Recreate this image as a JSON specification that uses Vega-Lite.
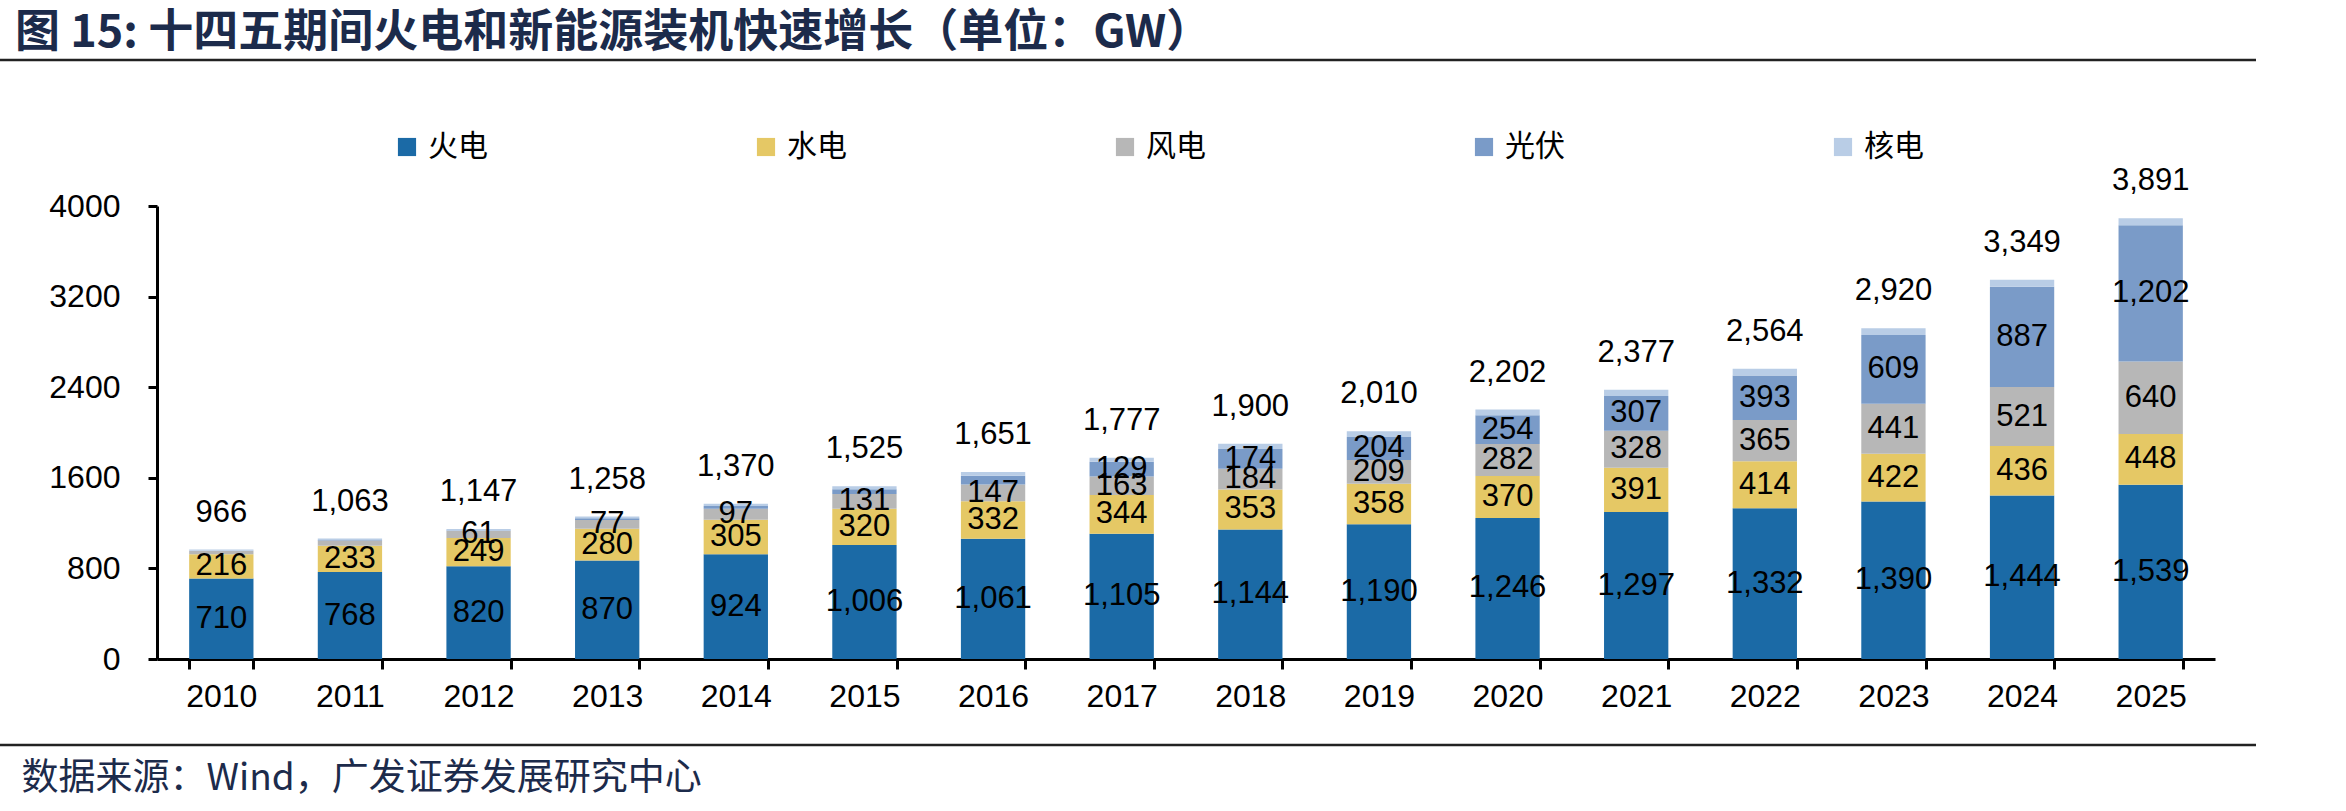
{
  "$schema": "https://vega.github.io/schema/vega-lite/v6.json",
  "width": 2058,
  "height": 453,
  "autosize": {"type": "none"},
  "padding": {"left": 157, "top": 206, "right": 131, "bottom": 152},
  "background": "white",
  "title": {
    "text": "图  15:  十四五期间火电和新能源装机快速增长（单位：GW）",
    "anchor": "start",
    "frame": "group",
    "dx": -142,
    "dy": 22,
    "offset": 3,
    "font": "Noto Sans CJK SC",
    "fontSize": 45,
    "fontWeight": "bold",
    "color": "#1c2b4b",
    "baseline": "middle"
  },
  "data": {
    "values": [
      {"year": "2010", "火电": 710, "水电": 216, "风电": 29, "光伏": 1, "核电": 10},
      {"year": "2011", "火电": 768, "水电": 233, "风电": 46, "光伏": 3, "核电": 13},
      {"year": "2012", "火电": 820, "水电": 249, "风电": 61, "光伏": 4, "核电": 13},
      {"year": "2013", "火电": 870, "水电": 280, "风电": 77, "光伏": 16, "核电": 15},
      {"year": "2014", "火电": 924, "水电": 305, "风电": 97, "光伏": 24, "核电": 20},
      {"year": "2015", "火电": 1006, "水电": 320, "风电": 131, "光伏": 42, "核电": 26},
      {"year": "2016", "火电": 1061, "水电": 332, "风电": 147, "光伏": 77, "核电": 34},
      {"year": "2017", "火电": 1105, "水电": 344, "风电": 163, "光伏": 129, "核电": 36},
      {"year": "2018", "火电": 1144, "水电": 353, "风电": 184, "光伏": 174, "核电": 45},
      {"year": "2019", "火电": 1190, "水电": 358, "风电": 209, "光伏": 204, "核电": 49},
      {"year": "2020", "火电": 1246, "水电": 370, "风电": 282, "光伏": 254, "核电": 50},
      {"year": "2021", "火电": 1297, "水电": 391, "风电": 328, "光伏": 307, "核电": 54},
      {"year": "2022", "火电": 1332, "水电": 414, "风电": 365, "光伏": 393, "核电": 60},
      {"year": "2023", "火电": 1390, "水电": 422, "风电": 441, "光伏": 609, "核电": 58},
      {"year": "2024", "火电": 1444, "水电": 436, "风电": 521, "光伏": 887, "核电": 61},
      {"year": "2025", "火电": 1539, "水电": 448, "风电": 640, "光伏": 1202, "核电": 62}
    ]
  },
  "transform": [
    {"fold": ["火电", "水电", "风电", "光伏", "核电"], "as": ["type", "value"]},
    {"calculate": "indexof(['火电','水电','风电','光伏','核电'], datum.type)", "as": "ord"}
  ],
  "layer": [
    {
      "mark": {"type": "bar"},
      "encoding": {
        "x": {
          "field": "year",
          "type": "ordinal",
          "scale": {"paddingInner": 0.5, "paddingOuter": 0.25},
          "axis": {
            "title": "数据来源：Wind，广发证券发展研究中心",
            "titleFont": "Noto Sans CJK SC",
            "titleFontSize": 37,
            "titleFontWeight": "normal",
            "titleColor": "#1c2b4b",
            "titleAnchor": "start",
            "titleAlign": "left",
            "titleBaseline": "middle",
            "titleX": -136,
            "titleY": 119,
            "labelAngle": 0,
            "labelFont": "Liberation Sans",
            "labelFontSize": 32,
            "labelColor": "#000000",
            "labelPadding": 12,
            "domainColor": "#000000",
            "domainWidth": 3,
            "tickColor": "#000000",
            "tickWidth": 3,
            "tickSize": 10,
            "tickBand": "extent"
          }
        },
        "y": {
          "field": "value",
          "type": "quantitative",
          "stack": "zero",
          "scale": {"domain": [0, 4000]},
          "axis": {
            "title": null,
            "values": [0, 800, 1600, 2400, 3200, 4000],
            "format": "d",
            "grid": false,
            "labelFont": "Liberation Sans",
            "labelFontSize": 32,
            "labelColor": "#000000",
            "labelPadding": 28,
            "domainColor": "#000000",
            "domainWidth": 3,
            "tickColor": "#000000",
            "tickWidth": 3,
            "tickSize": 9
          }
        },
        "color": {
          "field": "type",
          "type": "nominal",
          "scale": {
            "domain": ["火电", "水电", "风电", "光伏", "核电"],
            "range": ["#1b6aa6", "#e5c865", "#b7b7b7", "#7a9bc8", "#b9cde6"]
          },
          "legend": {
            "title": null,
            "orient": "none",
            "legendX": 235,
            "legendY": -74,
            "direction": "horizontal",
            "columnPadding": 263,
            "symbolType": "square",
            "symbolSize": 330,
            "symbolStrokeWidth": 0,
            "labelFont": "Noto Sans CJK SC",
            "labelFontSize": 30,
            "labelColor": "#000000",
            "labelOffset": 6
          }
        },
        "order": {"field": "ord", "type": "quantitative"}
      }
    },
    {
      "transform": [
        {"stack": "value", "groupby": ["year"], "sort": [{"field": "ord"}], "as": ["v0", "v1"]},
        {"calculate": "(datum.v0 + datum.v1) / 2", "as": "mid"},
        {"filter": "datum.type == '火电' || datum.type == '水电' || (datum.type == '风电' && toNumber(datum.year) >= 2012) || (datum.type == '光伏' && toNumber(datum.year) >= 2017)"}
      ],
      "mark": {"type": "text", "font": "Liberation Sans", "fontSize": 31, "color": "#000000", "baseline": "middle", "align": "center"},
      "encoding": {
        "x": {"field": "year", "type": "ordinal"},
        "y": {"field": "mid", "type": "quantitative"},
        "text": {"field": "value", "type": "quantitative", "format": ",d"}
      }
    },
    {
      "transform": [
        {"aggregate": [{"op": "sum", "field": "value", "as": "total"}], "groupby": ["year"]}
      ],
      "mark": {"type": "text", "font": "Liberation Sans", "fontSize": 31, "color": "#000000", "baseline": "middle", "align": "center", "dy": -37},
      "encoding": {
        "x": {"field": "year", "type": "ordinal"},
        "y": {"field": "total", "type": "quantitative"},
        "text": {"field": "total", "type": "quantitative", "format": ",d"}
      }
    },
    {
      "data": {"values": [{"pos": "top"}]},
      "mark": {"type": "rule", "color": "#222222", "strokeWidth": 2.5, "clip": false},
      "encoding": {
        "x": {"value": -157},
        "x2": {"value": 2099},
        "y": {"value": -146}
      }
    },
    {
      "data": {"values": [{"pos": "bottom"}]},
      "mark": {"type": "rule", "color": "#222222", "strokeWidth": 2.5, "clip": false},
      "encoding": {
        "x": {"value": -157},
        "x2": {"value": 2099},
        "y": {"value": 539}
      }
    }
  ],
  "config": {
    "view": {"stroke": null}
  }
}
